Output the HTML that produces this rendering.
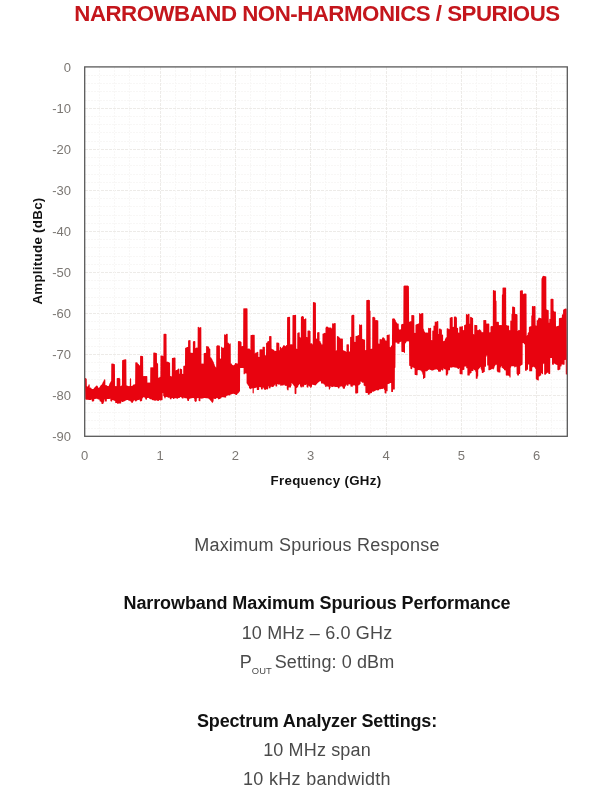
<!DOCTYPE html>
<html><head><meta charset="utf-8"><title>Narrowband Non-Harmonics / Spurious</title>
<style>
html,body{margin:0;padding:0;background:#fff;}
body{width:600px;height:790px;position:relative;overflow:hidden;font-family:"Liberation Sans",sans-serif;}
.t{position:absolute;left:17px;width:600px;text-align:center;white-space:nowrap;color:#1d1d1d;font-size:18px;line-height:22px;}
.b{font-weight:bold;color:#111;}
.l{color:#4a4a4a;}
#title{top:0.5px;font-size:22.3px;line-height:26px;font-weight:bold;color:#c4161c;letter-spacing:-0.5px;}
svg{position:absolute;left:0;top:0;}
.mj{stroke:#edebe8;stroke-width:1;stroke-dasharray:3 1;}
.mn{stroke:#f8f7f6;stroke-width:1;stroke-dasharray:2 1;}
.tk{font-family:"Liberation Sans",sans-serif;font-size:13px;fill:#7b7773;}
.ax{font-family:"Liberation Sans",sans-serif;font-size:13.3px;font-weight:bold;fill:#111;letter-spacing:0.3px;}
sub{font-size:9.4px;vertical-align:baseline;position:relative;top:5.5px;letter-spacing:0;margin-right:-2px;}
#w{position:absolute;left:0;top:0;width:600px;height:790px;will-change:transform;background:#fff;}
</style></head><body><div id="w">
<div class="t" id="title">NARROWBAND NON-HARMONICS / SPURIOUS</div>
<svg width="600" height="790" viewBox="0 0 600 790">
<g shape-rendering="crispEdges">
<line x1="84.7" x2="567.3" y1="75.50" y2="75.50" class="mn"/>
<line x1="84.7" x2="567.3" y1="83.50" y2="83.50" class="mn"/>
<line x1="84.7" x2="567.3" y1="91.50" y2="91.50" class="mn"/>
<line x1="84.7" x2="567.3" y1="100.50" y2="100.50" class="mn"/>
<line x1="84.7" x2="567.3" y1="108.50" y2="108.50" class="mj"/>
<line x1="84.7" x2="567.3" y1="116.50" y2="116.50" class="mn"/>
<line x1="84.7" x2="567.3" y1="124.50" y2="124.50" class="mn"/>
<line x1="84.7" x2="567.3" y1="132.50" y2="132.50" class="mn"/>
<line x1="84.7" x2="567.3" y1="141.50" y2="141.50" class="mn"/>
<line x1="84.7" x2="567.3" y1="149.50" y2="149.50" class="mj"/>
<line x1="84.7" x2="567.3" y1="157.50" y2="157.50" class="mn"/>
<line x1="84.7" x2="567.3" y1="165.50" y2="165.50" class="mn"/>
<line x1="84.7" x2="567.3" y1="174.50" y2="174.50" class="mn"/>
<line x1="84.7" x2="567.3" y1="182.50" y2="182.50" class="mn"/>
<line x1="84.7" x2="567.3" y1="190.50" y2="190.50" class="mj"/>
<line x1="84.7" x2="567.3" y1="198.50" y2="198.50" class="mn"/>
<line x1="84.7" x2="567.3" y1="206.50" y2="206.50" class="mn"/>
<line x1="84.7" x2="567.3" y1="215.50" y2="215.50" class="mn"/>
<line x1="84.7" x2="567.3" y1="223.50" y2="223.50" class="mn"/>
<line x1="84.7" x2="567.3" y1="231.50" y2="231.50" class="mj"/>
<line x1="84.7" x2="567.3" y1="239.50" y2="239.50" class="mn"/>
<line x1="84.7" x2="567.3" y1="247.50" y2="247.50" class="mn"/>
<line x1="84.7" x2="567.3" y1="256.50" y2="256.50" class="mn"/>
<line x1="84.7" x2="567.3" y1="264.50" y2="264.50" class="mn"/>
<line x1="84.7" x2="567.3" y1="272.50" y2="272.50" class="mj"/>
<line x1="84.7" x2="567.3" y1="280.50" y2="280.50" class="mn"/>
<line x1="84.7" x2="567.3" y1="288.50" y2="288.50" class="mn"/>
<line x1="84.7" x2="567.3" y1="297.50" y2="297.50" class="mn"/>
<line x1="84.7" x2="567.3" y1="305.50" y2="305.50" class="mn"/>
<line x1="84.7" x2="567.3" y1="313.50" y2="313.50" class="mj"/>
<line x1="84.7" x2="567.3" y1="321.50" y2="321.50" class="mn"/>
<line x1="84.7" x2="567.3" y1="329.50" y2="329.50" class="mn"/>
<line x1="84.7" x2="567.3" y1="338.50" y2="338.50" class="mn"/>
<line x1="84.7" x2="567.3" y1="346.50" y2="346.50" class="mn"/>
<line x1="84.7" x2="567.3" y1="354.50" y2="354.50" class="mj"/>
<line x1="84.7" x2="567.3" y1="362.50" y2="362.50" class="mn"/>
<line x1="84.7" x2="567.3" y1="371.50" y2="371.50" class="mn"/>
<line x1="84.7" x2="567.3" y1="379.50" y2="379.50" class="mn"/>
<line x1="84.7" x2="567.3" y1="387.50" y2="387.50" class="mn"/>
<line x1="84.7" x2="567.3" y1="395.50" y2="395.50" class="mj"/>
<line x1="84.7" x2="567.3" y1="403.50" y2="403.50" class="mn"/>
<line x1="84.7" x2="567.3" y1="412.50" y2="412.50" class="mn"/>
<line x1="84.7" x2="567.3" y1="420.50" y2="420.50" class="mn"/>
<line x1="84.7" x2="567.3" y1="428.50" y2="428.50" class="mn"/>
<line y1="66.9" y2="436.3" x1="99.50" x2="99.50" class="mn"/>
<line y1="66.9" y2="436.3" x1="114.50" x2="114.50" class="mn"/>
<line y1="66.9" y2="436.3" x1="129.50" x2="129.50" class="mn"/>
<line y1="66.9" y2="436.3" x1="144.50" x2="144.50" class="mn"/>
<line y1="66.9" y2="436.3" x1="160.50" x2="160.50" class="mj"/>
<line y1="66.9" y2="436.3" x1="175.50" x2="175.50" class="mn"/>
<line y1="66.9" y2="436.3" x1="190.50" x2="190.50" class="mn"/>
<line y1="66.9" y2="436.3" x1="205.50" x2="205.50" class="mn"/>
<line y1="66.9" y2="436.3" x1="220.50" x2="220.50" class="mn"/>
<line y1="66.9" y2="436.3" x1="235.50" x2="235.50" class="mj"/>
<line y1="66.9" y2="436.3" x1="250.50" x2="250.50" class="mn"/>
<line y1="66.9" y2="436.3" x1="265.50" x2="265.50" class="mn"/>
<line y1="66.9" y2="436.3" x1="280.50" x2="280.50" class="mn"/>
<line y1="66.9" y2="436.3" x1="295.50" x2="295.50" class="mn"/>
<line y1="66.9" y2="436.3" x1="310.50" x2="310.50" class="mj"/>
<line y1="66.9" y2="436.3" x1="325.50" x2="325.50" class="mn"/>
<line y1="66.9" y2="436.3" x1="340.50" x2="340.50" class="mn"/>
<line y1="66.9" y2="436.3" x1="355.50" x2="355.50" class="mn"/>
<line y1="66.9" y2="436.3" x1="370.50" x2="370.50" class="mn"/>
<line y1="66.9" y2="436.3" x1="386.50" x2="386.50" class="mj"/>
<line y1="66.9" y2="436.3" x1="401.50" x2="401.50" class="mn"/>
<line y1="66.9" y2="436.3" x1="416.50" x2="416.50" class="mn"/>
<line y1="66.9" y2="436.3" x1="431.50" x2="431.50" class="mn"/>
<line y1="66.9" y2="436.3" x1="446.50" x2="446.50" class="mn"/>
<line y1="66.9" y2="436.3" x1="461.50" x2="461.50" class="mj"/>
<line y1="66.9" y2="436.3" x1="476.50" x2="476.50" class="mn"/>
<line y1="66.9" y2="436.3" x1="491.50" x2="491.50" class="mn"/>
<line y1="66.9" y2="436.3" x1="506.50" x2="506.50" class="mn"/>
<line y1="66.9" y2="436.3" x1="521.50" x2="521.50" class="mn"/>
<line y1="66.9" y2="436.3" x1="536.50" x2="536.50" class="mj"/>
<line y1="66.9" y2="436.3" x1="551.50" x2="551.50" class="mn"/>
</g>
<polyline points="85.5,378.7 85.8,399.0 86.1,379.0 86.4,399.1 86.7,386.5 87.0,399.1 87.3,387.3 87.6,399.2 87.9,387.2 88.2,399.2 88.5,386.1 88.8,399.3 89.1,384.9 89.4,399.3 89.7,389.0 90.0,399.5 90.3,388.1 90.6,399.4 90.9,388.3 91.2,399.1 91.5,389.3 91.8,399.0 92.1,389.5 92.4,400.9 92.7,389.5 93.0,400.8 93.3,389.6 93.6,400.7 93.9,389.0 94.2,398.6 94.5,388.4 94.8,398.5 95.1,387.7 95.4,398.3 95.7,387.1 96.0,398.2 96.3,386.3 96.6,398.2 96.9,386.2 97.2,398.2 97.5,386.8 97.8,398.6 98.1,388.1 98.4,398.8 98.7,388.7 99.0,399.0 99.3,388.1 99.6,399.2 99.9,387.5 100.2,400.8 100.5,386.7 100.8,401.0 101.1,385.7 101.4,401.6 101.7,385.4 102.0,403.3 102.3,384.4 102.6,403.5 102.9,383.0 103.2,402.8 103.5,382.0 103.8,401.2 104.1,380.8 104.4,398.9 104.7,379.8 105.0,398.9 105.3,385.9 105.6,400.9 105.9,385.7 106.2,400.9 106.5,385.9 106.8,398.3 107.1,386.3 107.4,398.3 107.7,386.5 108.0,398.4 108.3,386.8 108.6,398.4 108.9,386.3 109.2,398.4 109.5,384.9 109.8,398.2 110.1,383.5 110.4,398.2 110.7,382.5 111.0,400.7 111.3,381.4 111.6,401.0 111.9,364.0 112.2,399.1 112.5,364.0 112.8,399.4 113.1,364.0 113.4,399.7 113.7,364.7 114.0,400.0 114.3,364.7 114.6,400.2 114.9,386.7 115.2,400.5 115.5,386.7 115.8,402.4 116.1,386.6 116.4,402.4 116.7,386.6 117.0,402.3 117.3,378.6 117.6,403.2 117.9,378.6 118.2,403.1 118.5,378.5 118.8,402.9 119.1,378.4 119.4,402.8 119.7,379.1 120.0,403.0 120.3,386.5 120.6,402.9 120.9,386.5 121.2,400.9 121.5,386.1 121.8,400.8 122.1,386.1 122.4,401.4 122.7,360.7 123.0,401.3 123.3,360.7 123.6,400.8 123.9,360.0 124.2,400.7 124.5,360.0 124.8,400.6 125.1,359.8 125.4,399.9 125.7,359.8 126.0,399.8 126.3,385.9 126.6,399.4 126.9,386.1 127.2,399.4 127.5,386.4 127.8,399.4 128.1,386.6 128.4,399.4 128.7,386.8 129.0,400.3 129.3,386.5 129.6,400.2 129.9,386.5 130.2,400.2 130.5,378.9 130.8,401.0 131.1,386.4 131.4,401.3 131.7,386.6 132.0,402.4 132.3,386.6 132.6,401.8 132.9,385.9 133.2,400.7 133.5,385.2 133.8,399.9 134.1,385.3 134.4,399.8 134.7,384.8 135.0,399.7 135.3,384.5 135.6,400.8 135.9,362.8 136.2,400.7 136.5,362.8 136.8,399.8 137.1,363.1 137.4,399.7 137.7,364.2 138.0,399.4 138.3,364.6 138.6,399.3 138.9,365.7 139.2,399.2 139.5,365.9 139.8,399.2 140.1,365.9 140.4,400.8 140.7,356.4 141.0,400.7 141.3,356.4 141.6,400.3 141.9,356.5 142.2,398.0 142.5,356.5 142.8,397.2 143.1,376.5 143.4,396.6 143.7,376.5 144.0,396.0 144.3,376.5 144.6,396.9 144.9,376.5 145.2,397.2 145.5,376.5 145.8,398.8 146.1,376.5 146.4,399.1 146.7,376.5 147.0,397.1 147.3,383.2 147.6,397.4 147.9,383.2 148.2,397.2 148.5,383.1 148.8,397.5 149.1,383.1 149.4,397.8 149.7,383.2 150.0,398.5 150.3,383.2 150.6,398.7 150.9,367.8 151.2,398.6 151.5,367.8 151.8,398.8 152.1,367.9 152.4,399.4 152.7,367.9 153.0,399.7 153.3,367.9 153.6,399.6 153.9,353.1 154.2,399.8 154.5,353.1 154.8,400.1 155.1,353.3 155.4,400.1 155.7,353.3 156.0,399.9 156.3,353.6 156.6,399.7 156.9,363.6 157.2,399.5 157.5,363.8 157.8,400.5 158.1,378.0 158.4,400.3 158.7,378.3 159.0,399.5 159.3,378.3 159.6,399.3 159.9,377.4 160.2,400.0 160.5,377.4 160.8,399.8 161.1,356.0 161.4,399.6 161.7,356.1 162.0,399.6 162.3,356.1 162.6,392.5 162.9,356.6 163.2,392.5 163.5,356.6 163.8,395.4 164.1,334.4 164.4,396.6 164.7,334.4 165.0,397.8 165.3,334.3 165.6,396.2 165.9,334.3 166.2,396.4 166.5,362.2 166.8,396.2 167.1,362.5 167.4,396.4 167.7,362.2 168.0,397.0 168.3,362.7 168.6,397.2 168.9,363.1 169.2,397.0 169.5,363.1 169.8,397.2 170.1,376.4 170.4,398.7 170.7,376.8 171.0,398.7 171.3,376.8 171.6,397.5 171.9,376.9 172.2,397.5 172.5,358.5 172.8,397.5 173.1,358.3 173.4,398.3 173.7,358.3 174.0,398.3 174.3,358.2 174.6,397.4 174.9,358.2 175.2,397.4 175.5,370.9 175.8,397.7 176.1,370.9 176.4,397.7 176.7,370.6 177.0,398.1 177.3,370.3 177.6,398.1 177.9,369.9 178.2,397.4 178.5,369.1 178.8,397.4 179.1,374.0 179.4,397.3 179.7,374.1 180.0,396.5 180.3,369.1 180.6,396.5 180.9,369.7 181.2,396.8 181.5,369.7 181.8,396.9 182.1,374.4 182.4,397.9 182.7,374.4 183.0,398.0 183.3,374.7 183.6,397.0 183.9,366.3 184.2,397.1 184.5,366.3 184.8,397.6 185.1,365.8 185.4,397.7 185.7,348.3 186.0,397.5 186.3,348.2 186.6,397.5 186.9,347.9 187.2,398.6 187.5,347.6 187.8,400.2 188.1,347.4 188.4,400.4 188.7,340.8 189.0,398.7 189.3,340.8 189.6,398.1 189.9,340.6 190.2,398.0 190.5,353.1 190.8,397.8 191.1,353.3 191.4,397.7 191.7,353.3 192.0,397.6 192.3,353.3 192.6,397.5 192.9,353.6 193.2,397.4 193.5,341.9 193.8,397.5 194.1,341.7 194.4,398.1 194.7,341.7 195.0,400.7 195.3,348.7 195.6,401.3 195.9,348.7 196.2,400.8 196.5,348.2 196.8,398.0 197.1,348.2 197.4,397.5 197.7,348.1 198.0,397.4 198.3,327.3 198.6,397.5 198.9,328.0 199.2,400.5 199.5,328.0 199.8,400.7 200.1,328.0 200.4,397.9 200.7,327.5 201.0,398.0 201.3,364.2 201.6,398.1 201.9,364.2 202.2,397.9 202.5,364.2 202.8,397.8 203.1,364.0 203.4,397.7 203.7,364.0 204.0,397.5 204.3,353.7 204.6,397.5 204.9,353.7 205.2,397.5 205.5,353.3 205.8,397.6 206.1,353.3 206.4,397.7 206.7,346.6 207.0,397.7 207.3,346.8 207.6,397.7 207.9,347.0 208.2,398.0 208.5,347.0 208.8,398.1 209.1,348.5 209.4,398.8 209.7,349.3 210.0,398.8 210.3,357.6 210.6,400.1 210.9,358.1 211.2,400.2 211.5,359.0 211.8,401.5 212.1,360.0 212.4,402.2 212.7,361.4 213.0,401.1 213.3,362.7 213.6,398.1 213.9,364.1 214.2,398.0 214.5,365.9 214.8,398.5 215.1,367.1 215.4,398.4 215.7,367.9 216.0,397.7 216.3,368.0 216.6,397.6 216.9,346.3 217.2,397.5 217.5,345.9 217.8,397.4 218.1,345.9 218.4,398.7 218.7,346.0 219.0,398.6 219.3,346.0 219.6,398.5 219.9,359.0 220.2,397.9 220.5,359.0 220.8,397.8 221.1,359.0 221.4,396.8 221.7,347.4 222.0,396.7 222.3,348.3 222.6,396.6 222.9,348.3 223.2,396.4 223.5,348.3 223.8,396.8 224.1,347.8 224.4,396.6 224.7,334.8 225.0,397.1 225.3,335.3 225.6,396.9 225.9,335.3 226.2,395.4 226.5,334.3 226.8,395.2 227.1,334.3 227.4,395.0 227.7,343.1 228.0,394.8 228.3,343.3 228.6,394.6 228.9,344.5 229.2,394.9 229.5,344.8 229.8,394.7 230.1,343.9 230.4,394.0 230.7,363.9 231.0,393.8 231.3,364.2 231.6,393.6 231.9,365.0 232.2,393.4 232.5,365.5 232.8,393.2 233.1,365.9 233.4,393.2 233.7,365.9 234.0,393.3 234.3,365.7 234.6,393.5 234.9,364.8 235.2,393.8 235.5,363.7 235.8,394.2 236.1,363.9 236.4,394.4 236.7,363.8 237.0,393.7 237.3,364.0 237.6,392.9 237.9,364.2 238.2,392.6 238.5,341.7 238.8,391.8 239.1,341.7 239.4,391.0 239.7,341.8 240.0,367.6 240.3,341.8 240.6,367.4 240.9,342.4 241.2,367.4 241.5,347.4 241.8,367.4 242.1,346.5 242.4,367.4 242.7,346.5 243.0,367.4 243.3,346.8 243.6,367.5 243.9,308.9 244.2,373.7 244.5,308.8 244.8,373.0 245.1,308.8 245.4,372.4 245.7,308.9 246.0,373.0 246.3,308.9 246.6,373.0 246.9,308.9 247.2,383.1 247.5,349.2 247.8,383.9 248.1,349.2 248.4,384.9 248.7,349.1 249.0,385.7 249.3,349.1 249.6,387.8 249.9,350.0 250.2,388.2 250.5,350.0 250.8,388.6 251.1,335.6 251.4,387.4 251.7,335.6 252.0,387.8 252.3,335.3 252.6,387.5 252.9,335.3 253.2,392.8 253.5,335.3 253.8,387.6 254.1,335.3 254.4,387.6 254.7,354.0 255.0,387.4 255.3,353.9 255.6,387.2 255.9,353.2 256.2,386.9 256.5,353.0 256.8,386.8 257.1,352.8 257.4,389.4 257.7,352.3 258.0,389.3 258.3,357.3 258.6,389.3 258.9,357.3 259.2,386.5 259.5,357.3 259.8,386.5 260.1,349.9 260.4,386.6 260.7,349.9 261.0,386.6 261.3,349.9 261.6,388.8 261.9,349.9 262.2,388.8 262.5,349.9 262.8,387.0 263.1,347.4 263.4,387.0 263.7,347.4 264.0,388.0 264.3,347.3 264.6,389.0 264.9,355.6 265.2,389.4 265.5,355.9 265.8,388.6 266.1,355.9 266.4,387.5 266.7,343.3 267.0,388.9 267.3,343.1 267.6,388.7 267.9,341.9 268.2,385.7 268.5,341.6 268.8,385.8 269.1,341.5 269.4,387.7 269.7,336.5 270.0,387.8 270.3,336.5 270.6,386.1 270.9,336.6 271.2,386.2 271.5,349.1 271.8,386.2 272.1,349.7 272.4,386.3 272.7,350.2 273.0,386.4 273.3,350.2 273.6,385.7 273.9,350.6 274.2,384.9 274.5,351.7 274.8,384.1 275.1,351.7 275.4,383.3 275.7,351.4 276.0,385.8 276.3,351.4 276.6,385.9 276.9,343.1 277.2,383.5 277.5,343.1 277.8,383.6 278.1,343.1 278.4,384.0 278.7,343.5 279.0,384.1 279.3,351.0 279.6,383.9 279.9,350.7 280.2,384.0 280.5,347.4 280.8,385.2 281.1,348.6 281.4,385.0 281.7,348.8 282.0,384.8 282.3,348.1 282.6,385.0 282.9,347.2 283.2,384.8 283.5,346.0 283.8,384.2 284.1,345.7 284.4,384.0 284.7,346.5 285.0,384.9 285.3,346.5 285.6,385.3 285.9,346.5 286.2,384.5 286.5,345.6 286.8,385.4 287.1,345.6 287.4,389.1 287.7,317.7 288.0,389.8 288.3,317.7 288.6,387.0 288.9,317.3 289.2,387.0 289.5,317.3 289.8,386.6 290.1,344.8 290.4,387.0 290.7,344.8 291.0,385.3 291.3,344.8 291.6,382.4 291.9,344.8 292.2,382.6 292.5,345.0 292.8,383.4 293.1,315.5 293.4,384.2 293.7,315.5 294.0,385.1 294.3,315.7 294.6,385.8 294.9,315.7 295.2,393.3 295.5,315.4 295.8,393.3 296.1,349.1 296.4,387.4 296.7,349.3 297.0,387.1 297.3,349.3 297.6,386.6 297.9,333.4 298.2,384.9 298.5,333.2 298.8,384.4 299.1,332.8 299.4,383.4 299.7,337.4 300.0,383.2 300.3,338.2 300.6,386.0 300.9,338.2 301.2,387.0 301.5,317.3 301.8,386.1 302.1,316.6 302.4,385.4 302.7,316.6 303.0,386.7 303.3,317.1 303.6,386.0 303.9,319.6 304.2,384.2 304.5,319.6 304.8,384.3 305.1,319.6 305.4,384.5 305.7,318.9 306.0,383.8 306.3,337.3 306.6,384.0 306.9,337.5 307.2,386.8 307.5,337.5 307.8,387.0 308.1,331.1 308.4,384.7 308.7,331.1 309.0,385.2 309.3,331.1 309.6,386.0 309.9,331.4 310.2,386.0 310.5,344.7 310.8,387.3 311.1,343.9 311.4,386.3 311.7,343.9 312.0,384.1 312.3,344.9 312.6,384.1 312.9,344.9 313.2,384.1 313.5,302.6 313.8,384.4 314.1,302.6 314.4,384.4 314.7,303.2 315.0,384.8 315.3,303.2 315.6,384.7 315.9,339.2 316.2,383.8 316.5,339.2 316.8,383.3 317.1,339.2 317.4,382.5 317.7,332.9 318.0,382.0 318.3,332.9 318.6,381.6 318.9,332.5 319.2,381.1 319.5,341.6 319.8,380.7 320.1,341.8 320.4,380.7 320.7,343.3 321.0,380.8 321.3,344.8 321.6,382.9 321.9,344.8 322.2,383.1 322.5,344.8 322.8,382.7 323.1,334.0 323.4,382.9 323.7,334.0 324.0,383.7 324.3,333.7 324.6,384.0 324.9,333.4 325.2,384.9 325.5,334.1 325.8,386.4 326.1,327.9 326.4,385.7 326.7,327.2 327.0,385.8 327.3,327.2 327.6,386.0 327.9,327.5 328.2,386.1 328.5,328.1 328.8,386.1 329.1,328.2 329.4,389.0 329.7,328.2 330.0,387.6 330.3,328.1 330.6,385.7 330.9,328.1 331.2,385.7 331.5,328.8 331.8,386.4 332.1,328.8 332.4,386.5 332.7,323.8 333.0,386.0 333.3,324.0 333.6,386.1 333.9,324.0 334.2,386.1 334.5,323.6 334.8,386.2 335.1,323.6 335.4,386.3 335.7,351.2 336.0,386.4 336.3,351.2 336.6,386.4 336.9,350.7 337.2,386.4 337.5,336.7 337.8,386.3 338.1,337.0 338.4,387.8 338.7,337.2 339.0,387.7 339.3,338.1 339.6,386.2 339.9,338.9 340.2,386.1 340.5,339.1 340.8,385.9 341.1,339.1 341.4,385.8 341.7,339.2 342.0,385.7 342.3,339.2 342.6,386.3 342.9,350.9 343.2,387.7 343.5,350.9 343.8,388.3 344.1,351.1 344.4,388.1 344.7,351.5 345.0,386.2 345.3,351.7 345.6,385.2 345.9,352.4 346.2,384.2 346.5,352.4 346.8,383.9 347.1,344.8 347.4,385.2 347.7,344.8 348.0,385.1 348.3,344.8 348.6,383.6 348.9,352.4 349.2,383.5 349.5,352.4 349.8,383.9 350.1,351.4 350.4,383.8 350.7,337.3 351.0,386.0 351.3,337.9 351.6,386.1 351.9,315.9 352.2,386.2 352.5,315.3 352.8,384.7 353.1,315.3 353.4,384.9 353.7,315.3 354.0,384.2 354.3,342.3 354.6,384.4 354.9,342.3 355.2,385.5 355.5,342.3 355.8,393.0 356.1,336.4 356.4,393.0 356.7,336.9 357.0,393.0 357.3,336.6 357.6,392.5 357.9,335.9 358.2,383.3 358.5,335.7 358.8,384.8 359.1,335.6 359.4,384.1 359.7,324.8 360.0,383.5 360.3,325.5 360.6,381.0 360.9,325.5 361.2,380.4 361.5,325.1 361.8,381.4 362.1,339.3 362.4,382.2 362.7,339.6 363.0,381.0 363.3,339.9 363.6,382.2 363.9,340.1 364.2,385.0 364.5,340.1 364.8,385.6 365.1,350.9 365.4,384.0 365.7,350.6 366.0,392.3 366.3,350.6 366.6,392.3 366.9,300.5 367.2,392.3 367.5,300.5 367.8,392.3 368.1,300.4 368.4,394.2 368.7,300.4 369.0,394.2 369.3,300.6 369.6,393.1 369.9,311.0 370.2,392.8 370.5,349.3 370.8,392.7 371.1,349.3 371.4,392.4 371.7,349.3 372.0,391.2 372.3,349.2 372.6,390.9 372.9,317.5 373.2,391.2 373.5,317.3 373.8,390.8 374.1,317.3 374.4,390.6 374.7,318.0 375.0,390.2 375.3,321.4 375.6,389.9 375.9,320.6 376.2,389.4 376.5,320.6 376.8,389.6 377.1,320.8 377.4,389.7 377.7,320.8 378.0,389.9 378.3,344.1 378.6,389.4 378.9,344.1 379.2,388.8 379.5,344.1 379.8,388.3 380.1,339.6 380.4,388.7 380.7,339.9 381.0,388.4 381.3,339.8 381.6,388.1 381.9,339.8 382.2,388.4 382.5,338.7 382.8,388.1 383.1,337.7 383.4,388.0 383.7,338.5 384.0,388.1 384.3,338.8 384.6,389.3 384.9,340.1 385.2,392.7 385.5,341.3 385.8,393.0 386.1,341.2 386.4,390.7 386.7,341.2 387.0,390.7 387.3,335.4 387.6,383.6 387.9,335.7 388.2,383.5 388.5,335.7 388.8,383.2 389.1,334.8 389.4,383.0 389.7,347.3 390.0,382.5 390.3,347.9 390.6,382.3 390.9,347.7 391.2,382.3 391.5,346.3 391.8,391.5 392.1,345.6 392.4,391.5 392.7,319.0 393.0,389.0 393.3,319.0 393.6,389.0 393.9,318.9 394.2,389.0 394.5,319.3 394.8,367.3 395.1,320.4 395.4,342.1 395.7,321.9 396.0,341.8 396.3,322.8 396.6,342.1 396.9,323.7 397.2,341.8 397.5,324.3 397.8,343.2 398.1,324.1 398.4,343.1 398.7,329.1 399.0,343.1 399.3,330.2 399.6,341.4 399.9,330.5 400.2,341.4 400.5,329.9 400.8,340.9 401.1,329.9 401.4,340.9 401.7,324.8 402.0,351.3 402.3,324.6 402.6,351.3 402.9,324.3 403.2,351.5 403.5,324.5 403.8,351.5 404.1,286.4 404.4,352.3 404.7,286.0 405.0,343.1 405.3,286.0 405.6,342.3 405.9,286.0 406.2,341.2 406.5,286.0 406.8,341.0 407.1,286.1 407.4,340.3 407.7,286.1 408.0,340.8 408.3,286.6 408.6,340.7 408.9,322.9 409.2,341.0 409.5,322.3 409.8,365.3 410.1,322.1 410.4,365.6 410.7,321.8 411.0,368.3 411.3,321.5 411.6,368.6 411.9,315.7 412.2,366.4 412.5,315.7 412.8,366.8 413.1,315.7 413.4,367.0 413.7,315.8 414.0,367.3 414.3,333.3 414.6,367.6 414.9,333.4 415.2,374.3 415.5,333.4 415.8,374.3 416.1,325.0 416.4,374.7 416.7,324.8 417.0,374.7 417.3,324.6 417.6,369.6 417.9,324.4 418.2,369.6 418.5,324.2 418.8,369.3 419.1,323.9 419.4,369.5 419.7,313.6 420.0,369.8 420.3,314.7 420.6,370.0 420.9,314.7 421.2,369.9 421.5,313.8 421.8,371.0 422.1,313.8 422.4,372.0 422.7,313.6 423.0,374.1 423.3,329.0 423.6,378.3 423.9,330.9 424.2,377.3 424.5,332.4 424.8,377.3 425.1,333.2 425.4,370.7 425.7,333.2 426.0,370.5 426.3,333.2 426.6,370.8 426.9,333.1 427.2,370.4 427.5,333.1 427.8,369.6 428.1,333.4 428.4,369.3 428.7,328.4 429.0,369.0 429.3,328.9 429.6,369.0 429.9,328.9 430.2,369.2 430.5,328.4 430.8,369.5 431.1,340.9 431.4,369.7 431.7,340.6 432.0,369.9 432.3,340.6 432.6,369.9 432.9,331.0 433.2,369.7 433.5,331.0 433.8,369.3 434.1,326.0 434.4,369.2 434.7,326.4 435.0,368.8 435.3,322.2 435.6,368.8 435.9,322.5 436.2,368.8 436.5,322.5 436.8,368.7 437.1,321.5 437.4,369.1 437.7,321.5 438.0,369.5 438.3,334.4 438.6,371.1 438.9,334.4 439.2,371.2 439.5,329.1 439.8,371.1 440.1,329.1 440.4,371.1 440.7,329.9 441.0,369.3 441.3,329.9 441.6,368.4 441.9,335.7 442.2,369.8 442.5,335.0 442.8,369.8 443.1,341.6 443.4,367.7 443.7,341.7 444.0,368.1 444.3,341.7 444.6,368.6 444.9,340.9 445.2,369.0 445.5,339.4 445.8,369.1 446.1,338.1 446.4,375.0 446.7,337.5 447.0,375.0 447.3,328.9 447.6,373.4 447.9,328.9 448.2,367.5 448.5,329.6 448.8,369.8 449.1,329.6 449.4,369.7 449.7,329.6 450.0,367.1 450.3,318.2 450.6,367.0 450.9,318.2 451.2,367.1 451.5,317.7 451.8,367.0 452.1,317.7 452.4,366.7 452.7,327.3 453.0,366.6 453.3,327.3 453.6,366.4 453.9,327.4 454.2,366.9 454.5,317.1 454.8,366.7 455.1,317.2 455.4,367.1 455.7,317.2 456.0,366.9 456.3,317.9 456.6,367.2 456.9,328.3 457.2,367.3 457.5,328.3 457.8,368.0 458.1,333.1 458.4,368.4 458.7,333.1 459.0,367.3 459.3,333.8 459.6,367.6 459.9,327.2 460.2,373.6 460.5,327.2 460.8,373.6 461.1,327.0 461.4,373.6 461.7,327.0 462.0,374.0 462.3,326.7 462.6,367.4 462.9,330.6 463.2,369.4 463.5,330.6 463.8,369.2 464.1,330.6 464.4,366.1 464.7,325.6 465.0,366.0 465.3,325.2 465.6,365.9 465.9,325.1 466.2,365.7 466.5,314.5 466.8,367.7 467.1,315.3 467.4,367.7 467.7,315.3 468.0,374.9 468.3,314.3 468.6,374.9 468.9,314.3 469.2,374.9 469.5,324.2 469.8,373.0 470.1,324.2 470.4,373.0 470.7,317.4 471.0,372.5 471.3,317.7 471.6,368.3 471.9,318.3 472.2,370.4 472.5,318.4 472.8,370.5 473.1,334.3 473.4,368.7 473.7,334.8 474.0,368.9 474.3,334.8 474.6,369.6 474.9,325.3 475.2,369.7 475.5,325.5 475.8,371.2 476.1,325.5 476.4,378.2 476.7,325.6 477.0,378.2 477.3,330.6 477.6,376.0 477.9,330.6 478.2,369.0 478.5,330.8 478.8,368.3 479.1,330.3 479.4,367.5 479.7,329.9 480.0,365.8 480.3,330.5 480.6,366.5 480.9,331.1 481.2,368.2 481.5,332.7 481.8,370.0 482.1,333.2 482.4,372.5 482.7,332.5 483.0,372.5 483.3,332.5 483.6,371.5 483.9,320.6 484.2,371.5 484.5,320.6 484.8,364.8 485.1,320.6 485.4,366.2 485.7,320.6 486.0,356.2 486.3,324.1 486.6,354.8 486.9,324.1 487.2,354.8 487.5,324.0 487.8,364.9 488.1,324.0 488.4,364.9 488.7,324.0 489.0,369.7 489.3,332.8 489.6,369.6 489.9,332.8 490.2,369.3 490.5,332.6 490.8,369.2 491.1,326.8 491.4,368.5 491.7,326.5 492.0,368.3 492.3,326.5 492.6,368.2 492.9,326.5 493.2,368.8 493.5,290.6 493.8,367.8 494.1,291.0 494.4,366.0 494.7,291.0 495.0,365.0 495.3,291.0 495.6,364.1 495.9,301.0 496.2,364.1 496.5,322.7 496.8,364.2 497.1,322.3 497.4,370.8 497.7,322.3 498.0,371.7 498.3,322.4 498.6,371.7 498.9,325.7 499.2,372.0 499.5,325.7 499.8,372.0 500.1,325.7 500.4,367.0 500.7,325.7 501.0,365.7 501.3,325.7 501.6,365.7 501.9,325.6 502.2,367.2 502.5,294.8 502.8,367.5 503.1,288.1 503.4,368.2 503.7,288.1 504.0,368.5 504.3,288.1 504.6,369.6 504.9,288.0 505.2,369.9 505.5,288.0 505.8,368.5 506.1,325.6 506.4,375.1 506.7,325.6 507.0,374.6 507.3,326.2 507.6,374.9 507.9,326.2 508.2,375.2 508.5,326.0 508.8,375.0 509.1,331.0 509.4,375.3 509.7,330.7 510.0,376.9 510.3,330.7 510.6,367.1 510.9,321.0 511.2,365.7 511.5,321.0 511.8,365.7 512.1,314.3 512.4,365.7 512.7,307.0 513.0,365.7 513.3,307.0 513.6,365.7 513.9,307.6 514.2,365.4 514.5,307.6 514.8,366.8 515.1,314.4 515.4,366.2 515.7,314.6 516.0,366.2 516.3,314.6 516.6,364.4 516.9,314.9 517.2,373.6 517.5,331.3 517.8,375.0 518.1,331.3 518.4,375.0 518.7,330.7 519.0,373.4 519.3,330.7 519.6,373.4 519.9,330.7 520.2,365.3 520.5,291.2 520.8,365.1 521.1,291.2 521.4,364.5 521.7,290.8 522.0,364.2 522.3,290.8 522.6,342.3 522.9,294.7 523.2,342.3 523.5,294.7 523.8,342.3 524.1,294.0 524.4,343.7 524.7,294.0 525.0,343.7 525.3,294.2 525.6,370.2 525.9,294.2 526.2,370.2 526.5,336.1 526.8,369.2 527.1,336.1 527.4,369.2 527.7,335.3 528.0,364.0 528.3,333.3 528.6,364.0 528.9,332.3 529.2,364.0 529.5,327.3 529.8,370.7 530.1,327.0 530.4,370.7 530.7,326.9 531.0,370.7 531.3,326.7 531.6,370.7 531.9,315.9 532.2,366.7 532.5,306.7 532.8,366.7 533.1,306.9 533.4,365.7 533.7,306.9 534.0,366.2 534.3,306.7 534.6,366.7 534.9,306.7 535.2,367.2 535.5,325.9 535.8,368.5 536.1,326.0 536.4,378.5 536.7,326.0 537.0,379.4 537.3,320.9 537.6,379.4 537.9,320.5 538.2,380.0 538.5,319.1 538.8,375.8 539.1,318.1 539.4,375.8 539.7,318.6 540.0,375.2 540.3,318.6 540.6,375.0 540.9,318.9 541.2,372.7 541.5,318.9 541.8,372.5 542.1,278.7 542.4,373.6 542.7,277.2 543.0,363.6 543.3,276.4 543.6,362.8 543.9,276.5 544.2,362.8 544.5,276.5 544.8,374.1 545.1,276.8 545.4,374.1 545.7,276.8 546.0,373.2 546.3,309.8 546.6,372.8 546.9,310.1 547.2,371.9 547.5,310.5 547.8,372.2 548.1,310.7 548.4,371.9 548.7,323.1 549.0,373.4 549.3,323.1 549.6,373.4 549.9,319.4 550.2,357.4 550.5,319.4 550.8,357.4 551.1,299.4 551.4,357.3 551.7,299.3 552.0,357.3 552.3,299.3 552.6,364.1 552.9,299.3 553.2,364.3 553.5,311.0 553.8,362.8 554.1,312.0 554.4,363.0 554.7,312.2 555.0,363.3 555.3,312.0 555.6,363.7 555.9,327.1 556.2,363.9 556.5,326.9 556.8,364.3 557.1,326.9 557.4,364.4 557.7,326.6 558.0,369.6 558.3,326.3 558.6,369.6 558.9,326.2 559.2,369.1 559.5,318.6 559.8,369.1 560.1,318.6 560.4,365.8 560.7,318.3 561.0,365.8 561.3,318.3 561.6,364.0 561.9,318.1 562.2,364.0 562.5,314.8 562.8,364.0 563.1,315.1 563.4,364.2 563.7,310.1 564.0,364.2 564.3,309.8 564.6,359.3 564.9,309.4 565.2,359.3 565.5,309.1 565.8,359.0 566.1,309.0 566.4,374.0" fill="none" stroke="#e8030f" stroke-width="1.2" stroke-linejoin="round" stroke-linecap="round"/>
<rect x="84.7" y="66.9" width="482.6" height="369.4" fill="none" stroke="#595959" stroke-width="1.3"/>
<text x="71" y="71.8" text-anchor="end" class="tk">0</text>
<text x="71" y="112.8" text-anchor="end" class="tk">-10</text>
<text x="71" y="153.9" text-anchor="end" class="tk">-20</text>
<text x="71" y="194.9" text-anchor="end" class="tk">-30</text>
<text x="71" y="236.0" text-anchor="end" class="tk">-40</text>
<text x="71" y="277.0" text-anchor="end" class="tk">-50</text>
<text x="71" y="318.1" text-anchor="end" class="tk">-60</text>
<text x="71" y="359.1" text-anchor="end" class="tk">-70</text>
<text x="71" y="400.2" text-anchor="end" class="tk">-80</text>
<text x="71" y="441.2" text-anchor="end" class="tk">-90</text>
<text x="84.7" y="460.2" text-anchor="middle" class="tk">0</text>
<text x="160.0" y="460.2" text-anchor="middle" class="tk">1</text>
<text x="235.4" y="460.2" text-anchor="middle" class="tk">2</text>
<text x="310.7" y="460.2" text-anchor="middle" class="tk">3</text>
<text x="386.0" y="460.2" text-anchor="middle" class="tk">4</text>
<text x="461.4" y="460.2" text-anchor="middle" class="tk">5</text>
<text x="536.7" y="460.2" text-anchor="middle" class="tk">6</text>
<text class="ax" x="326" y="484.5" text-anchor="middle">Frequency (GHz)</text>
<text class="ax" transform="translate(42.3,251) rotate(-90)" text-anchor="middle">Amplitude (dBc)</text>
</svg>
<div class="t l" style="top:534px;letter-spacing:0.22px">Maximum Spurious Response</div>
<div class="t b" style="top:592px;letter-spacing:-0.105px">Narrowband Maximum Spurious Performance</div>
<div class="t l" style="top:621.5px;letter-spacing:0.16px">10 MHz – 6.0 GHz</div>
<div class="t l" style="top:651px;letter-spacing:0.1px">P<sub>OUT</sub> Setting: 0 dBm</div>
<div class="t b" style="top:709.5px;letter-spacing:-0.16px">Spectrum Analyzer Settings:</div>
<div class="t l" style="top:738.5px;letter-spacing:0.15px">10 MHz span</div>
<div class="t l" style="top:767.5px;letter-spacing:0.3px">10 kHz bandwidth</div>
</div></body></html>
